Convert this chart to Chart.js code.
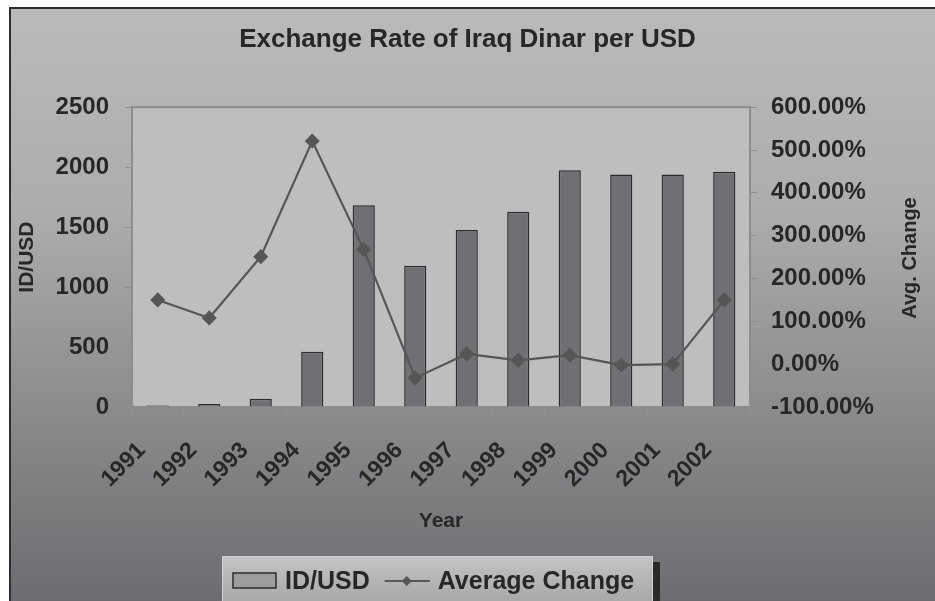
<!DOCTYPE html>
<html>
<head>
<meta charset="utf-8">
<title>Exchange Rate of Iraq Dinar per USD</title>
<script src="https://cdn.jsdelivr.net/npm/chart.js@4.4.1/dist/chart.umd.min.js"></script>
<style>
    body { margin: 0; background: #ffffff; overflow: hidden; }
    #area { position: relative; width: 935px; height: 601px; }
</style>
</head>
<body>
<div id="area"><canvas id="myChart"></canvas></div>
<script>
let years = ['1991', '1992', '1993', '1994', '1995', '1996', '1997', '1998', '1999', '2000', '2001', '2002'];
let rateIdUsd = [12, 25, 69, 460, 1683, 1178, 1475, 1628, 1975, 1939, 1939, 1961];
let avgChange = [150, 108, 251, 521, 268, -32, 24, 9, 21, -2, 0, 150];
let rateTicks = [0, 2500, 500];      // min, max, step
let changeTicks = [-100, 600, 100];  // min, max, step (percent)

const FONT = "'Liberation Sans', Arial, sans-serif";
const INK = '#272727';

// frame, gradient background and plot area fill
const background = {
    id: 'background',
    beforeDraw(chart) {
        let ctx = chart.ctx;
        let w = chart.width;
        let h = chart.height;
        ctx.save();
        ctx.fillStyle = '#ffffff';
        ctx.fillRect(0, 0, w, h);
        let grad = ctx.createLinearGradient(0, 8, 0, h);
        grad.addColorStop(0, '#b9babc');
        grad.addColorStop(0.35, '#abacae');
        grad.addColorStop(0.7, '#88898b');
        grad.addColorStop(1, '#6c6d70');
        ctx.fillStyle = grad;
        ctx.fillRect(9, 7, w - 9, h - 7);
        ctx.strokeStyle = '#2e2e2e';
        ctx.lineWidth = 2;
        ctx.beginPath();
        ctx.moveTo(10, h);
        ctx.lineTo(10, 8);
        ctx.lineTo(w, 8);
        ctx.stroke();

        let a = chart.chartArea;
        ctx.fillStyle = '#bdbec0';
        ctx.fillRect(a.left, a.top, a.right - a.left, a.bottom - a.top);
        ctx.strokeStyle = '#8c8d8f';
        ctx.lineWidth = 2;
        ctx.strokeRect(a.left, a.top, a.right - a.left, a.bottom - a.top);
        ctx.restore();
    }
};

// right axis title (reads bottom to top) and the boxed legend
const extras = {
    id: 'extras',
    afterDraw(chart) {
        let ctx = chart.ctx;
        let h = chart.height;
        ctx.save();
        ctx.fillStyle = INK;
        ctx.font = 'bold 20px ' + FONT;
        ctx.textAlign = 'center';
        ctx.textBaseline = 'middle';
        ctx.translate(910, 258);
        ctx.rotate(-Math.PI / 2);
        ctx.fillText(chart.options.scales.y1.title.text, 0, 0);
        ctx.restore();

        let bars = chart.data.datasets[1];
        let line = chart.data.datasets[0];
        let left = 222, right = 653, top = 556;

        ctx.save();
        ctx.fillStyle = '#2a2a2a';
        ctx.fillRect(right, top + 6, 7, h);
        let grad = ctx.createLinearGradient(0, top, 0, h);
        grad.addColorStop(0, '#c3c4c6');
        grad.addColorStop(1, '#a7a8aa');
        ctx.fillStyle = grad;
        ctx.fillRect(left, top, right - left, h - top + 5);
        ctx.strokeStyle = '#d2d3d5';
        ctx.lineWidth = 1;
        ctx.strokeRect(left + 0.5, top + 0.5, right - left - 1, h - top + 5);

        let y = 581;
        let x = 233;
        ctx.fillStyle = '#9c9d9f';
        ctx.fillRect(x, y - 8, 43, 15);
        ctx.strokeStyle = bars.borderColor;
        ctx.lineWidth = 1.5;
        ctx.strokeRect(x, y - 8, 43, 15);
        x += 52;

        ctx.font = 'bold 25px ' + FONT;
        ctx.textBaseline = 'middle';
        ctx.fillStyle = INK;
        ctx.fillText(bars.label, x, y + 1);
        x += ctx.measureText(bars.label).width + 15;

        ctx.strokeStyle = line.borderColor;
        ctx.lineWidth = 2;
        ctx.beginPath();
        ctx.moveTo(x, y);
        ctx.lineTo(x + 45, y);
        ctx.stroke();
        ctx.fillStyle = line.pointBackgroundColor;
        ctx.beginPath();
        ctx.moveTo(x + 22, y - 5);
        ctx.lineTo(x + 27, y);
        ctx.lineTo(x + 22, y + 5);
        ctx.lineTo(x + 17, y);
        ctx.closePath();
        ctx.fill();
        x += 53;

        ctx.fillStyle = INK;
        ctx.fillText(line.label, x, y + 1);
        ctx.restore();
    }
};

function DrawChart() {
    let dados = {
        labels: years,
        datasets: [{
            label: 'Average Change',
            type: 'line',
            data: avgChange,
            yAxisID: 'y1',
            order: 0,
            borderColor: '#555658',
            borderWidth: 2.2,
            pointStyle: 'rectRot',
            pointRadius: 6,
            pointHoverRadius: 6,
            pointBackgroundColor: '#555658',
            pointBorderColor: '#555658',
            tension: 0
        }, {
            label: 'ID/USD',
            type: 'bar',
            data: rateIdUsd,
            yAxisID: 'y',
            order: 1,
            backgroundColor: '#6f7073',
            borderColor: '#2b2b2b',
            borderWidth: 1.5,
            categoryPercentage: 1,
            barPercentage: 0.43
        }]
    };

    let options = {
        responsive: true,
        maintainAspectRatio: false,
        animation: false,
        layout: { padding: { top: 8, right: 0, bottom: 44, left: 0 } },
        plugins: {
            legend: { display: false },
            tooltip: { enabled: false },
            title: {
                display: true,
                text: 'Exchange Rate of Iraq Dinar per USD',
                color: INK,
                font: { family: FONT, size: 26, weight: 'bold' },
                padding: { top: 16, bottom: 52 }
            }
        },
        scales: {
            x: {
                type: 'category',
                offset: true,
                afterFit: function (scale) { scale.height = 150; },
                grid: { drawOnChartArea: false, tickLength: 8, color: '#8e8f91', offset: true },
                border: { color: '#8c8d8f', width: 2 },
                ticks: {
                    color: INK,
                    font: { family: FONT, size: 23, weight: 'bold' },
                    minRotation: 45,
                    maxRotation: 45,
                    padding: 22,
                    labelOffset: -16,
                    autoSkip: false
                },
                title: {
                    display: true,
                    text: 'Year',
                    color: INK,
                    font: { family: FONT, size: 21, weight: 'bold' },
                    padding: { top: 0, bottom: 23 }
                }
            },
            y: {
                position: 'left',
                min: rateTicks[0],
                max: rateTicks[1],
                afterFit: function (scale) { scale.width = 132; },
                grid: { drawOnChartArea: false, tickLength: 7, color: '#8e8f91' },
                border: { color: '#8c8d8f', width: 2 },
                ticks: {
                    stepSize: rateTicks[2],
                    color: INK,
                    padding: 16,
                    font: { family: FONT, size: 24, weight: 'bold' },
                    callback: function (value) { return String(value); }
                },
                title: {
                    display: true,
                    text: 'ID/USD',
                    color: INK,
                    font: { family: FONT, size: 21, weight: 'bold' },
                    padding: { top: 15, bottom: 0 }
                }
            },
            y1: {
                position: 'right',
                min: changeTicks[0],
                max: changeTicks[1],
                afterFit: function (scale) { scale.width = 185; },
                grid: { drawOnChartArea: false, tickLength: 7, color: '#8e8f91' },
                border: { color: '#8c8d8f', width: 2 },
                ticks: {
                    stepSize: changeTicks[2],
                    color: INK,
                    padding: 14,
                    font: { family: FONT, size: 24, weight: 'bold' },
                    callback: function (value) { return value.toFixed(2) + '%'; }
                },
                title: { display: false, text: 'Avg. Change' }
            }
        }
    };

    let config = {
        data: dados,
        options: options,
        plugins: [background, extras]
    };
    let myChart = new Chart(document.getElementById('myChart'), config);
}

DrawChart();
</script>
</body>
</html>
